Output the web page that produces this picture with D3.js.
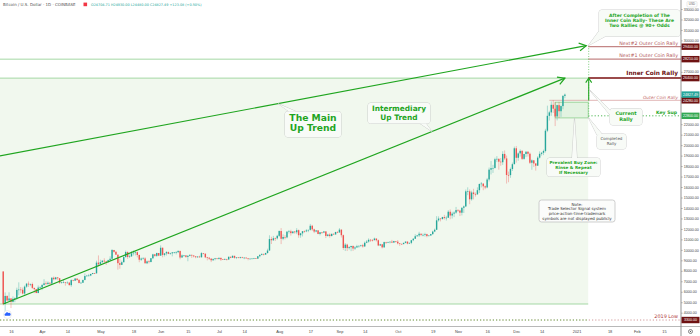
<!DOCTYPE html>
<html><head><meta charset="utf-8">
<script src="https://cdn.jsdelivr.net/npm/d3@7"></script>
<style>
html,body{margin:0;padding:0;background:#fff;}
svg{display:block;font-family:"DejaVu Sans",sans-serif;}
</style></head><body>
<svg id="chart" width="700" height="336"></svg>
<script>
// ---------------- DATA ----------------
const startDate = "2020-03-12";          // first daily candle
const firstOpen = 7935;
// daily closes Mar 12 2020 .. Dec 26 2020
const closes = [
 4830,5600,5170,5360,5030,5330,5410,6180,6210,6190,5830,6490,6770,6700,6740,6370,6250,5880,6400,6420,
 6650,6800,6740,6860,6780,7340,7200,7370,7290,6860,6890,6910,6860,6870,6630,7110,7060,7260,7130,6840,6860,7130,7500,7540,7550,7700,7790,7760,8780,8620,
 8830,8970,8900,8880,9020,9150,9990,9810,9540,8730,8570,8820,9310,9790,9320,9380,9670,9730,9780,9510,9060,9170,9180,8720,8900,8840,9200,9570,9430,9700,9450,
 10200,9520,9660,9790,9620,9670,9760,9780,9780,9890,9270,9470,9470,9330,9430,9520,9460,9380,9300,9360,9290,9690,9630,9290,9250,9160,9010,9120,9190,9140,
 9230,9090,9060,9130,9080,9340,9250,9430,9240,9280,9230,9300,9240,9260,9190,9130,9160,9170,9210,9160,9390,9530,9610,9550,9700,9940,11030,10920,11110,11100,11340,
 11800,11060,11230,11190,11740,11770,11600,11750,11680,11880,11400,11580,11780,11770,11860,11910,12300,11960,11750,11860,11520,11680,11650,11760,11330,11460,11320,11530,11470,11710,11660,
 11930,11400,10180,10500,10170,10260,10370,10130,10230,10350,10390,10440,10330,10680,10790,10960,10940,10930,11080,10920,10420,10530,10240,10740,10690,10730,10780,10700,10840,10780,
 10620,10570,10550,10670,10790,10600,10670,10920,11060,11300,11380,11540,11430,11430,11500,11320,11370,11510,11750,11920,12820,12990,12940,13130,13040,13070,13640,13280,13460,13560,13800,
 13750,13550,14020,14150,15590,15590,14830,15480,15330,15300,15700,16290,16330,16070,15960,16720,17660,17800,17820,18650,18690,18420,18370,19160,18730,17150,17140,17720,18180,19700,
 18790,19210,19450,18690,19150,19370,19180,18320,18550,18250,18040,18810,19170,19270,19440,21380,22800,23130,23850,23480,22740,23820,23240,23730,24700,24827
];
const highs = [
 7966,5940,5650,5950,5370,5560,5450,6390,6900,6450,6400,6600,6840,6980,6790,6880,6380,6260,6600,6520,
 6750,7200,7000,6990,6880,7370,7460,7420,7380,7300,6950,7180,6920,6990,6940,7190,7150,7300,7260,7220,6950,7150,7750,7610,7700,7710,7800,7800,8970,9470,
 9060,9000,9200,8950,9070,9390,10070,9990,9900,9560,9160,8970,9400,9930,9850,9580,9880,9950,9880,9840,9560,9270,9310,9300,8980,9010,9220,9630,9610,9740,9700,
 10430,10230,9690,9880,9850,9730,9800,9800,9880,9980,9940,9560,9490,9490,9500,9580,9550,9480,9400,9400,9440,9780,9690,9670,9330,9300,9200,9190,9230,9200,
 9300,9270,9130,9180,9140,9360,9350,9470,9440,9300,9290,9340,9340,9280,9270,9200,9190,9200,9230,9220,9420,9540,9670,9640,9730,10110,11390,11250,11330,11180,11440,
 11860,12080,11480,11410,11780,11900,11920,11800,11800,12070,11940,11620,11800,11850,11980,11930,12480,12390,12030,11890,11880,11690,11710,11810,11770,11530,11590,11550,11580,11720,11780,
 12080,11950,11460,10650,10580,10350,10400,10430,10350,10480,10400,10480,10580,10800,10940,11100,11040,11030,11170,11080,10990,10580,10550,10790,10770,10790,10800,10950,10860,10850,
 10940,10660,10600,10680,10800,10800,10690,10950,11120,11490,11430,11720,11550,11560,11630,11540,11400,11520,11830,12030,13220,13200,13030,13160,13340,13250,13790,13860,13640,13680,14100,
 13900,13830,14060,14240,15760,15970,15770,15650,15830,15480,15970,16340,16480,16330,16150,16870,17860,18480,18120,18800,18950,18740,18770,19420,19490,19010,17480,17860,18340,19860,
 19920,19310,19600,19530,19170,19420,19420,19290,18640,18560,18280,18950,19410,19350,19570,21560,23770,23280,24170,24300,24100,23850,24130,23790,24790,24930
];
const lows = [
 4700,3858,5090,5100,4440,4970,5000,5260,5670,5860,5750,5700,6380,6460,6530,6270,5870,5860,5860,6330,
 6160,6590,6600,6660,6690,6780,7090,7150,7110,6750,6780,6810,6580,6800,6610,6470,7010,7040,7060,6800,6790,6850,7090,7450,7460,7490,7670,7690,7750,8420,
 8620,8760,8730,8560,8760,8930,9040,9720,9520,8110,8200,8550,8800,9270,9140,9220,9330,9460,9470,9280,8820,8940,9080,8700,8640,8710,8810,9110,9340,9330,9400,
 9420,9290,9370,9460,9590,9530,9380,9640,9570,9690,9100,9250,9340,9240,8910,9380,9230,9280,9200,9220,9270,9280,9570,9210,9000,9040,8830,8950,9000,9090,
 9080,8940,9040,9050,8980,9060,9210,9230,9160,9120,9190,9170,9200,9110,9170,9010,9090,9130,9110,9130,9150,9280,9480,9460,9530,9640,9920,10560,10850,10850,10990,
 11220,10550,10920,11000,11100,11560,11360,11530,11540,11500,11150,11160,11280,11640,11690,11690,11840,11810,11600,11680,11490,11380,11520,11600,11130,11260,11160,11290,11430,11460,11590,
 11640,11180,10000,9890,9890,10020,9880,9900,10000,10210,10200,10280,10210,10270,10640,10690,10760,10800,10890,10800,10360,10370,10140,10200,10560,10650,10620,10650,10650,10700,
 10520,10380,10520,10540,10630,10530,10590,10540,10830,11060,11260,11230,11310,11290,11270,11200,11300,11350,11420,11690,11900,12700,12720,12900,12900,12800,13060,12930,12990,13130,13450,
 13620,13230,13290,13520,14090,15220,14360,14700,14820,15090,15280,15430,15960,15700,15790,15880,16530,17200,17350,17760,18380,17660,18030,18110,18580,16330,16460,16880,17530,18180,
 18330,18510,18910,18580,18600,18860,18910,18200,17650,17910,17570,18020,18720,19000,19050,19300,21240,22350,22800,23070,21820,22360,22600,22700,23430,24480
];

const xTickDates  = ["2020-03-16","2020-04-01","2020-04-14","2020-05-01","2020-05-18","2020-06-01","2020-06-15","2020-07-01","2020-07-14","2020-08-01","2020-08-17","2020-09-01","2020-09-14","2020-10-01","2020-10-19","2020-11-01","2020-11-16","2020-12-01","2020-12-14","2021-01-01","2021-01-18","2021-02-01","2021-02-15"];
const xTickLabels = ["16","Apr","14","May","18","Jun","15","Jul","14","Aug","17","Sep","14","Oct","19","Nov","16","Dec","14","2021","18","Feb","15"];
const yTickValues = d3.range(4000, 33001, 1000);

const levelNames  = ["Next#2 Outer Coin Rally","Next#1 Outer Coin Rally","Inner Coin Rally","Outer Coin Rally","Key Sup","2019 Low"];
const levelValues = [29400, 28210, 26400, 24280, 22800, 3300];
const currentPrice = 24827.49;

const trendNames  = ["The Main Up Trend","Intermediary Up Trend"];
const trendStart  = [["2020-03-10",18960],["2020-03-12",4830]];
const trendEnd    = [["2021-01-06",29500],["2020-12-26",26400]];

const zoneStart = "2020-03-10", zoneEnd = "2021-01-07";   // shaded projection zone
const zoneLow = 4830, zoneHigh = 26400;
const buyZoneDates = ["2020-12-21","2021-01-07"], buyZonePrices = [24100, 22600];

const headerTitle = "Bitcoin / U.S. Dollar · 1D · COINBASE";
const headerOHLC  = "O24704.71  H24930.00  L24480.00  C24827.49  +123.08 (+0.50%)";

// ---------------- SCALES ----------------
const P = d => new Date(d + "T00:00:00Z");
const x = d3.scaleUtc().domain([P("2020-03-16"), P("2021-02-15")]).range([11, 664]);
const y = d3.scaleLinear().domain([4000, 33000]).range([312.7, 9]);
const DAY = 864e5;
const t0 = P(startDate).getTime();

const svg = d3.select("#chart");
const W = 700, H = 336, plotR = 681, plotB = 326.5;
const AXF = '"Liberation Sans", Arial, sans-serif';
svg.append("rect").attr("width", W).attr("height", H).attr("fill", "#fff");
svg.append("defs").append("clipPath").attr("id", "plot").append("rect")
   .attr("x", 0).attr("y", 0).attr("width", plotR).attr("height", plotB);
const plot = svg.append("g").attr("clip-path", "url(#plot)");

const GREEN = "#1fa51f", LGREEN = "#9bd49b", ROSE = "#c48686", MAROON = "#6e1212";

// shaded zone
plot.append("rect")
  .attr("x", x(P(zoneStart))).attr("y", y(zoneHigh))
  .attr("width", x(P(zoneEnd)) - x(P(zoneStart))).attr("height", y(zoneLow) - y(zoneHigh))
  .attr("fill", "#f1f8ee");
[levelValues[1], zoneHigh, zoneLow].forEach(v => {
  plot.append("line").attr("x1", x(P(zoneStart))).attr("x2", x(P(zoneEnd)))
    .attr("y1", y(v)).attr("y2", y(v)).attr("stroke", LGREEN).attr("stroke-width", 0.9);
});

const xz = x(P(zoneEnd));
const levelStyle = [
  {w:1.3, c:ROSE, from:xz}, {w:1.3, c:ROSE, from:xz}, {w:2, c:"#9b4b4b", from:xz},
  {w:0.8, c:"#d9a5a5", from:x(P("2020-12-18"))}, {w:0.9, c:"#3cb043", from:xz, dash:"1.2,2"},
  {w:0.9, c:"#c98a8a", from:0, dash:"1.2,2"}
];
levelValues.forEach((v,i) => {
  const s = levelStyle[i];
  plot.append("line").attr("x1", s.from).attr("x2", plotR).attr("y1", y(v)).attr("y2", y(v))
    .attr("stroke", s.c).attr("stroke-width", s.w).attr("stroke-dasharray", s.dash || null);
});
plot.append("line").attr("x1", 0).attr("x2", xz).attr("y1", y(levelValues[5])).attr("y2", y(levelValues[5]))
  .attr("stroke", "#6cbf5a").attr("stroke-width", 0.9).attr("stroke-dasharray", "1.2,2");

// buy zone rectangle
plot.append("rect")
  .attr("x", x(P(buyZoneDates[0]))).attr("y", y(buyZonePrices[0]))
  .attr("width", x(P(buyZoneDates[1])) - x(P(buyZoneDates[0])))
  .attr("height", y(buyZonePrices[1]) - y(buyZonePrices[0]))
  .attr("fill", "rgba(200,235,200,0.35)").attr("stroke", "#8fd08f").attr("stroke-width", 0.8);

// vertical dotted projection line and rally arrow
plot.append("line").attr("x1", xz+0.5).attr("x2", xz+0.5).attr("y1", y(29500)).attr("y2", y(22600))
  .attr("stroke", "#5cc05c").attr("stroke-width", 0.8).attr("stroke-dasharray", "1,1.6");
plot.append("line").attr("x1", xz+0.5).attr("x2", xz+0.5).attr("y1", y(24280)).attr("y2", y(zoneHigh)+0.5)
  .attr("stroke", GREEN).attr("stroke-width", 1.1);
plot.append("path").attr("d", `M${xz+0.5-3},${y(zoneHigh)+4.5}L${xz+0.5},${y(zoneHigh)}L${xz+0.5+3},${y(zoneHigh)+4.5}`)
  .attr("fill", "none").attr("stroke", GREEN).attr("stroke-width", 1.1);

// candles
const candles = closes.map((c,i) => ({
  d: new Date(t0 + i*DAY), o: i ? closes[i-1] : firstOpen, h: highs[i], l: lows[i], c
}));
const UP = "#26a69a", DN = "#ef5350";
const cg = plot.append("g");
cg.selectAll("line").data(candles).join("line")
  .attr("x1", d => x(d.d)).attr("x2", d => x(d.d))
  .attr("y1", d => y(d.h)).attr("y2", d => y(d.l))
  .attr("stroke", d => d.c >= d.o ? UP : DN).attr("stroke-opacity", 0.45).attr("stroke-width", 0.8);
cg.selectAll("rect").data(candles).join("rect")
  .attr("x", d => x(d.d) - 0.7).attr("width", 1.4)
  .attr("y", d => y(Math.max(d.o, d.c)))
  .attr("height", d => Math.max(0.6, Math.abs(y(d.o) - y(d.c))))
  .attr("fill", d => d.c >= d.o ? UP : DN);

// trend lines with open arrowheads
const trendPts = trendNames.map((n,i) => [[x(P(trendStart[i][0])), y(trendStart[i][1])], [x(P(trendEnd[i][0])), y(trendEnd[i][1])]]);
trendPts.forEach(([[x1,y1],[x2,y2]]) => {
  plot.append("line").attr("x1", x1).attr("y1", y1).attr("x2", x2).attr("y2", y2)
    .attr("stroke", GREEN).attr("stroke-width", 1.2);
  const a = Math.atan2(y2 - y1, x2 - x1), L = 8, s = 0.5;
  const p1 = [x2 - L*Math.cos(a - s), y2 - L*Math.sin(a - s)];
  const p2 = [x2 - L*Math.cos(a + s), y2 - L*Math.sin(a + s)];
  plot.append("path").attr("d", `M${p1}L${x2},${y2}L${p2}`).attr("fill", "none")
    .attr("stroke", GREEN).attr("stroke-width", 1.2);
});
const onTrend = (i, px) => { const [[x1,y1],[x2,y2]] = trendPts[i]; return [px, y1 + (px - x1)*(y2 - y1)/(x2 - x1)]; };

// ---------------- CALLOUTS ----------------
function callout(box, base, tip, lines, st) {
  const g = svg.append("g");
  const fill = st.fill || "#f8fbf7", stroke = st.stroke || "#c3c3c3";
  const rect = s => g.append("rect").attr("x", box[0]).attr("y", box[1]).attr("width", box[2]).attr("height", box[3])
      .attr("rx", 2.5).attr("fill", fill).attr("stroke", s ? stroke : "none").attr("stroke-width", 0.8);
  const tail = s => g.append("path").attr("d", `M${base[0]}L${tip}L${base[1]}Z`)
      .attr("fill", fill).attr("stroke", s ? stroke : "none").attr("stroke-width", 0.8);
  rect(true); if (tip) { tail(true); tail(false); rect(false); }
  lines.forEach((t,i) => {
    g.append("text").attr("x", box[0] + box[2]/2).attr("y", st.y0 + i*st.lh)
      .attr("text-anchor", "middle").attr("font-size", st.fs).attr("font-weight", st.bold ? "bold" : "normal")
      .attr("fill", st.color).text(t);
  });
}
callout([285,111.5,56,25.5], [[289,111.5],[296,111.5]], onTrend(0, 278), ["The Main","Up Trend"],
  {fs:9.2, bold:true, color:GREEN, y0:121, lh:10});
callout([368,103,62,20.5], [[420,123.5],[426,123.5]], onTrend(1, 432), ["Intermediary","Up Trend"],
  {fs:7.4, bold:true, color:GREEN, y0:111.3, lh:8.5});
callout([599,10,81,26.5], [[599,31],[605,36.5]], [xz, y(29500)], ["After Completion of The","Inner Coin Rally- These Are","Two Rallies @ 90+ Odds"],
  {fs:4.5, bold:true, color:GREEN, y0:16.8, lh:5.1});
callout([610,108.5,32,16.5], [[610,110],[610,115]], [xz+1, y(25300)], ["Current","Rally"],
  {fs:4.9, bold:true, color:GREEN, y0:115.4, lh:5.4});
callout([597,134,29,15], [[597,135],[602,134]], [xz, y(22650)], ["Completed","Rally"],
  {fs:4, bold:false, color:"#555", y0:140.3, lh:5});
callout([547,158,53,18.5], [[572,158],[577,158]], [574.5, y(22550)], ["Prevalent Buy Zone:","Rinse & Repeat","If Necessary"],
  {fs:4.2, bold:true, color:GREEN, y0:164.3, lh:4.6});
callout([539,200,76,22], null, null, ["Note:","Trade Selector Signal system","price-action-time-trademark","symbols are not displayed publicly"],
  {fs:4, bold:false, color:"#333", y0:205.5, lh:4.8, fill:"#fbfcfb"});

// level texts
const lt = (txt, v, dy, fs, col, extra) => {
  const t = svg.append("text").attr("x", 678).attr("y", y(v) + dy).attr("text-anchor", "end")
    .attr("font-size", fs).attr("fill", col).text(txt);
  if (extra) extra(t);
};
lt(levelNames[0], levelValues[0], -2.2, 4.8, "#b35757");
lt(levelNames[1], levelValues[1], -2.6, 4.8, "#b35757");
lt(levelNames[2], levelValues[2], -3.2, 5.8, MAROON, t => t.attr("font-weight", "bold"));
lt(levelNames[3], levelValues[3], -1.8, 4.3, "#c46a6a", t => t.attr("font-style", "italic"));
lt(levelNames[4], levelValues[4], -1.4, 4.6, GREEN, t => t.attr("font-weight", "bold").attr("x", 677));
lt(levelNames[5], levelValues[5], -1.6, 4.9, "#b03a3a");

// ---------------- AXES ----------------
const fmt = d3.format(".2f");
const boxVals = levelValues.concat([currentPrice]);
const ya = svg.append("g").attr("transform", `translate(${plotR},0)`)
  .call(d3.axisRight(y).tickValues(yTickValues.filter(v => boxVals.every(b => Math.abs(y(v) - y(b)) > 5.5)))
        .tickSize(1.8).tickPadding(1).tickFormat(fmt));
ya.select(".domain").remove();
ya.selectAll("line").attr("stroke", "#888").attr("stroke-width", 0.5);
ya.selectAll("text").attr("font-size", 3.6).attr("fill", "#444").attr("font-family", AXF);
svg.append("line").attr("x1", plotR).attr("x2", plotR).attr("y1", 0).attr("y2", H).attr("stroke", "#666").attr("stroke-width", 0.7);
svg.append("line").attr("x1", 0).attr("x2", W).attr("y1", plotB).attr("y2", plotB).attr("stroke", "#888").attr("stroke-width", 0.6);

const xa = svg.append("g").attr("transform", `translate(0,${plotB})`)
  .call(d3.axisBottom(x).tickValues(xTickDates.map(P)).tickSize(0).tickPadding(3.3)
        .tickFormat((d,i) => xTickLabels[i]));
xa.select(".domain").remove();
xa.selectAll("text").attr("font-size", 3.9).attr("fill", "#444").attr("font-family", AXF);

// price boxes on axis
const boxCol = [MAROON, MAROON, MAROON, MAROON, "#34a853", MAROON];
const priceBox = (v, col) => {
  svg.append("rect").attr("x", plotR + 0.5).attr("y", y(v) - 3.2).attr("width", 18).attr("height", 6.4).attr("fill", col);
  svg.append("text").attr("x", plotR + 9.5).attr("y", y(v) + 1.3).attr("text-anchor", "middle")
    .attr("font-family", AXF).attr("font-size", 3.6).attr("fill", "#fff").text(fmt(v));
};
levelValues.forEach((v,i) => priceBox(v, boxCol[i]));
priceBox(currentPrice, "#26a69a");

// USD tag
svg.append("rect").attr("x", 687).attr("y", 1.5).attr("width", 10).attr("height", 5.5).attr("rx", 1)
  .attr("fill", "#fff").attr("stroke", "#ccc").attr("stroke-width", 0.4);
svg.append("text").attr("x", 692).attr("y", 5.4).attr("text-anchor", "middle").attr("font-family", AXF).attr("font-size", 3).attr("fill", "#555").text("USD");

// header
svg.append("text").attr("x", 3).attr("y", 5.9).attr("font-size", 4).attr("fill", "#555").text(headerTitle);
svg.append("rect").attr("x", 83.5).attr("y", 2.6).attr("width", 3.6).attr("height", 3.6).attr("fill", "#f23645");
svg.append("text").attr("x", 91).attr("y", 5.9).attr("font-size", 3.4).attr("fill", "#26a69a").text(headerOHLC);

// logo & gear
const lg = svg.append("g").attr("transform", "translate(7.5,314.5)");
lg.append("circle").attr("r", 4).attr("fill", "#fff").attr("stroke", "#ddd").attr("stroke-width", 0.5);
lg.append("path").attr("d", "M-2.4,1.2 a1.2,1.2 0 0 1 0.4,-2.2 a1.6,1.6 0 0 1 3,-0.4 a1.2,1.2 0 0 1 1.4,2.6 Z").attr("fill", "#2962ff");
const gear = svg.append("g").attr("transform", "translate(690.5,331.5)");
gear.append("circle").attr("r", 2).attr("fill", "none").attr("stroke", "#555").attr("stroke-width", 0.7);
gear.append("circle").attr("r", 0.7).attr("fill", "#555");
</script>
</body></html>
